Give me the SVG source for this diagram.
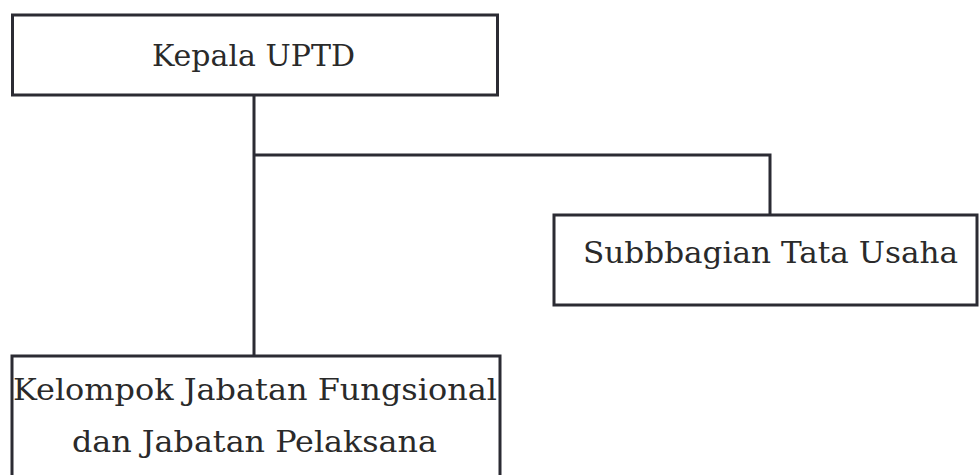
<svg xmlns="http://www.w3.org/2000/svg" width="979" height="475" viewBox="0 0 979 475">
<style>
.box{fill:#fff;stroke:#2b2b33;stroke-width:3}
.ln{fill:none;stroke:#2b2b33;stroke-width:3}
.t{font-family:"DejaVu Serif","Liberation Serif",serif;font-size:29px;fill:#2a2a2a;text-anchor:middle}
</style>
<rect width="979" height="475" fill="#fff"/>
<g id="connectors">
<path class="ln" d="M254 95 V356"/>
<path class="ln" d="M254 155 H770 V215"/>
</g>
<g id="kepala">
<rect class="box" x="12.5" y="15" width="485" height="80"/>
<text class="t" x="253.5" y="66" textLength="203" lengthAdjust="spacingAndGlyphs">Kepala UPTD</text>
</g>
<g id="subbagian">
<rect class="box" x="554" y="215" width="423" height="90"/>
<text class="t" x="770.5" y="263" textLength="375" lengthAdjust="spacingAndGlyphs">Subbbagian Tata Usaha</text>
</g>
<g id="kelompok">
<rect class="box" x="12" y="356" width="488" height="134"/>
<text class="t" x="255" y="400" textLength="484" lengthAdjust="spacingAndGlyphs">Kelompok Jabatan Fungsional</text>
<text class="t" x="254.5" y="452" textLength="365" lengthAdjust="spacingAndGlyphs">dan Jabatan Pelaksana</text>
</g>
</svg>
